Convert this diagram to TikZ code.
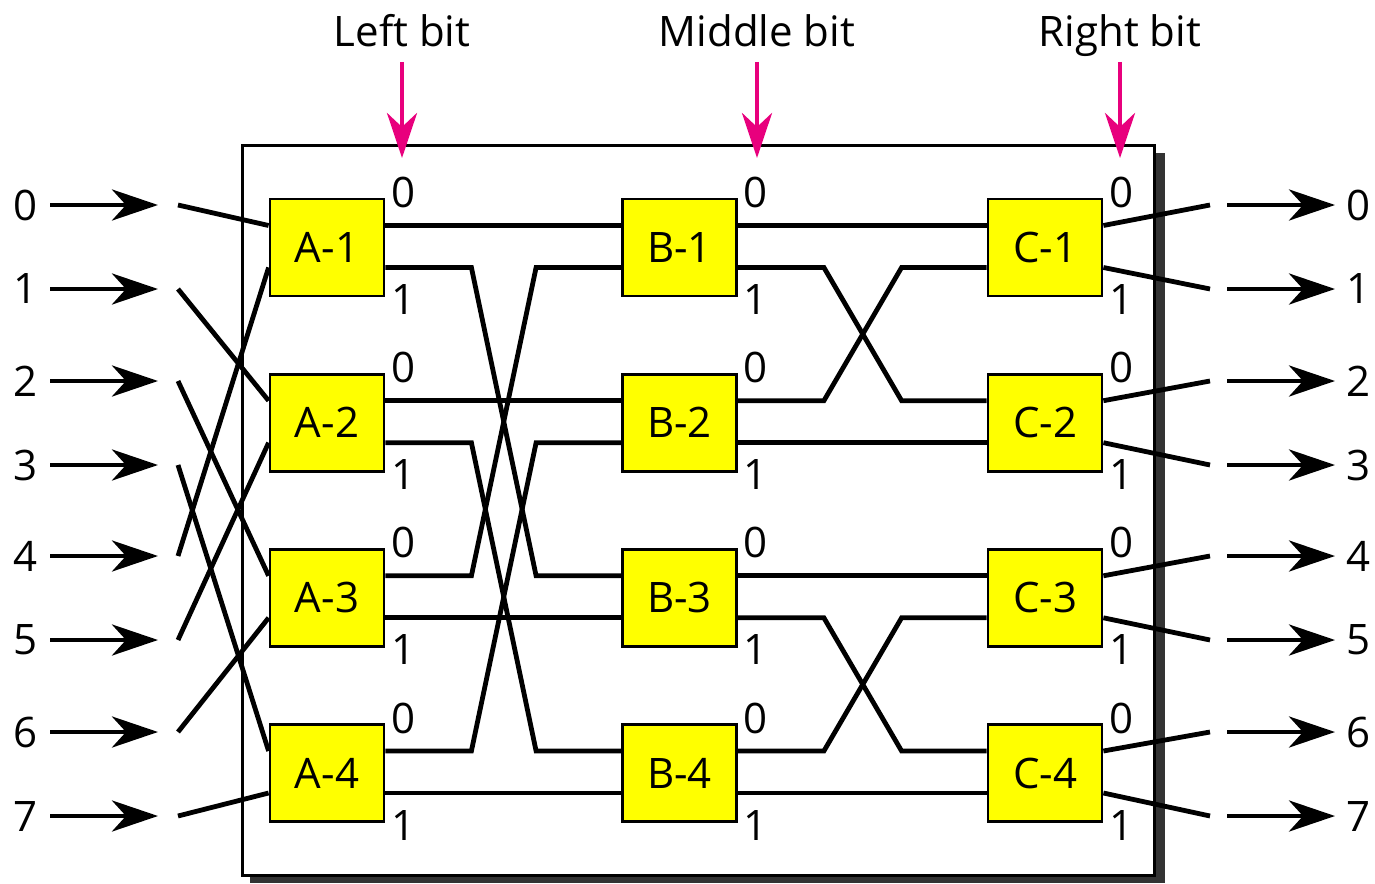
\documentclass[tikz,border=0pt]{standalone}
\usepackage{fontspec}
\setmainfont{Open Sans}
\usetikzlibrary{arrows.meta,calc}
\definecolor{bitpink}{RGB}{232,0,125}
\definecolor{shadowgray}{RGB}{51,51,51}
\definecolor{swyellow}{RGB}{255,255,0}
\begin{document}
\begin{tikzpicture}[x=1pt,y=-1pt,
  sw/.style={draw=black,line width=2.8pt,fill=swyellow,minimum width=114pt,minimum height=97pt,inner sep=0pt,font=\fontsize{42}{44}\selectfont},
  wire/.style={line width=4.8pt,line join=miter},
  ioarrow/.style={line width=4.8pt,-{Stealth[length=46pt,width=31pt,inset=14pt]}},
  bitarrow/.style={bitpink,line width=4.8pt,-{Stealth[length=45pt,width=30pt,inset=14pt]}},
  lbl/.style={font=\fontsize{42}{44}\selectfont,inner sep=0pt},
]
\useasboundingbox (0,0) rectangle (1375,883);
% outer frame with shadow
\fill[shadowgray] (250,153) rectangle (1165,883);
\draw[line width=3pt,fill=white] (242,145) rectangle (1154,875);

% switches
\foreach \c/\cx in {A/327,B/679.5,C/1045}{
  \foreach \r/\cy in {1/247.5,2/422.7,3/597.8,4/773}{
    \node[sw] (\c\r) at (\cx,\cy) {\c-\r};
    \coordinate (\c\r-o0) at ($(\c\r.east)+(0,-22)$);
    \coordinate (\c\r-o1) at ($(\c\r.east)+(0,20)$);
    \coordinate (\c\r-i0) at ($(\c\r.west)+(0,-22)$);
    \coordinate (\c\r-i1) at ($(\c\r.west)+(0,20)$);
    \node[lbl] (\c\r-l0) at ($(\c\r.east)+(18,-55)$) {0};
    \node[lbl] (\c\r-l1) at ($(\c\r.east)+(18,52)$) {1};
  }
}

% inputs and outputs
\foreach \i/\y in {0/205,1/289,2/381,3/465,4/556,5/640,6/732,7/816}{
  \node[lbl] (inl\i) at (26,\y) {\i};
  \coordinate (ina\i) at (50,\y);
  \coordinate (inb\i) at (158,\y);
  \coordinate (in\i) at (178,\y);
  \draw[ioarrow] (ina\i) -- (inb\i);
  \coordinate (out\i) at (1210,\y);
  \coordinate (outa\i) at (1227,\y);
  \coordinate (outb\i) at (1335,\y);
  \node[lbl] (outl\i) at (1358,\y) {\i};
  \draw[ioarrow] (outa\i) -- (outb\i);
}

% input wiring
\draw[wire] (in0) -- (A1-i0);
\draw[wire] (in1) -- (A2-i0);
\draw[wire] (in2) -- (A3-i0);
\draw[wire] (in3) -- (A4-i0);
\draw[wire] (in4) -- (A1-i1);
\draw[wire] (in5) -- (A2-i1);
\draw[wire] (in6) -- (A3-i1);
\draw[wire] (in7) -- (A4-i1);

% A -> B
\draw[wire] (A1-o0) -- (B1-i0);
\draw[wire] (A2-o0) -- (B2-i0);
\draw[wire] (A3-o1) -- (B3-i1);
\draw[wire] (A4-o1) -- (B4-i1);
\draw[wire] (A1-o1) -- ++(86,0) -- ($(B3-i0)+(-85,0)$) -- (B3-i0);
\draw[wire] (A2-o1) -- ++(86,0) -- ($(B4-i0)+(-85,0)$) -- (B4-i0);
\draw[wire] (A3-o0) -- ++(86,0) -- ($(B1-i1)+(-85,0)$) -- (B1-i1);
\draw[wire] (A4-o0) -- ++(86,0) -- ($(B2-i1)+(-85,0)$) -- (B2-i1);

% B -> C
\draw[wire] (B1-o0) -- (C1-i0);
\draw[wire] (B2-o1) -- (C2-i1);
\draw[wire] (B3-o0) -- (C3-i0);
\draw[wire] (B4-o1) -- (C4-i1);
\draw[wire] (B1-o1) -- ++(86,0) -- ($(C2-i0)+(-85,0)$) -- (C2-i0);
\draw[wire] (B2-o0) -- ++(86,0) -- ($(C1-i1)+(-85,0)$) -- (C1-i1);
\draw[wire] (B3-o1) -- ++(86,0) -- ($(C4-i0)+(-85,0)$) -- (C4-i0);
\draw[wire] (B4-o0) -- ++(86,0) -- ($(C3-i1)+(-85,0)$) -- (C3-i1);

% output wiring
\draw[wire] (C1-o0) -- (out0);
\draw[wire] (C1-o1) -- (out1);
\draw[wire] (C2-o0) -- (out2);
\draw[wire] (C2-o1) -- (out3);
\draw[wire] (C3-o0) -- (out4);
\draw[wire] (C3-o1) -- (out5);
\draw[wire] (C4-o0) -- (out6);
\draw[wire] (C4-o1) -- (out7);

% bit selectors
\foreach \n/\x/\t in {L/402/Left bit,M/757/Middle bit,R/1120/Right bit}{
  \node[lbl,anchor=base] (bit\n) at (\x,47) {\t};
  \coordinate (bit\n-a) at (\x,62);
  \coordinate (bit\n-b) at (\x,158);
  \draw[bitarrow] (bit\n-a) -- (bit\n-b);
}
\end{tikzpicture}
\end{document}
